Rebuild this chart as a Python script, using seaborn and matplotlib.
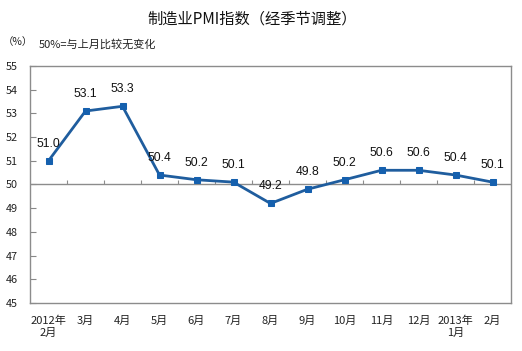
import matplotlib
matplotlib.use("Agg")
import matplotlib.pyplot as plt
import seaborn as sns
import pandas as pd
import numpy as np

months = ["2012年\n2月", "3月", "4月", "5月", "6月", "7月", "8月", "9月",
          "10月", "11月", "12月", "2013年\n1月", "2月"]
pmi = [51.0, 53.1, 53.3, 50.4, 50.2, 50.1, 49.2, 49.8, 50.2, 50.6, 50.6, 50.4, 50.1]
yticks = [45, 46, 47, 48, 49, 50, 51, 52, 53, 54, 55]

sns.set_theme(style="white")
plt.rcParams['font.family'] = ['Noto Sans CJK SC', 'DejaVu Sans']

df = pd.DataFrame({"idx": np.arange(len(months)), "pmi": pmi})

fig = plt.figure(figsize=(5.22, 3.51), dpi=100)
ax = fig.add_axes([30/522, 48/351, 481/522, 237/351])

line_color = "#1F5D9E"
sns.lineplot(data=df, x="idx", y="pmi", ax=ax, color=line_color, linewidth=2,
             marker="s", markersize=4.6, markerfacecolor="#1560AE",
             markeredgecolor="#1560AE")

ax.set_xlim(-0.5, len(months) - 0.5)
ax.set_ylim(45, 55)
ax.set_yticks(yticks)
ax.set_yticklabels([str(v) for v in yticks], fontsize=7.8, color="#222222")
ax.set_xticks(range(len(months)))
ax.set_xticklabels(months, fontsize=8, color="#222222", linespacing=1.2)
ax.tick_params(axis="x", length=0, pad=9)
ax.tick_params(axis="y", direction="in", length=4, width=0.8, color="#888888",
               left=True, pad=9)
ax.set_xlabel("")
ax.set_ylabel("")

for s in ax.spines.values():
    s.set_color("#8C8C8C")
    s.set_linewidth(1.0)

# horizontal reference line at 50 with category tick marks
ax.axhline(50, color="#8C8C8C", linewidth=1.0, zorder=1)
ax.vlines(np.arange(len(months) - 1) + 0.5, 50, 50.17, color="#8C8C8C",
          linewidth=0.8, zorder=1)

for i, v in enumerate(pmi):
    ax.annotate(f"{v:.1f}", (i, v), xytext=(0, 8), textcoords="offset points",
                ha="center", va="bottom", fontsize=8.7,
                family=["Liberation Sans", "DejaVu Sans"], color="#111111")

fig.text(252/522, 1 - 19/351, "制造业PMI指数（经季节调整）", ha="center", va="center",
         fontsize=11, color="#111111")
fig.text(3/522, 1 - 42/351, "（%）", ha="left", va="center", fontsize=7.5,
         color="#222222")
fig.text(39/522, 1 - 44/351, "50%=与上月比较无变化", ha="left", va="center",
         fontsize=8, color="#222222")

fig.savefig("out.png", dpi=100)
